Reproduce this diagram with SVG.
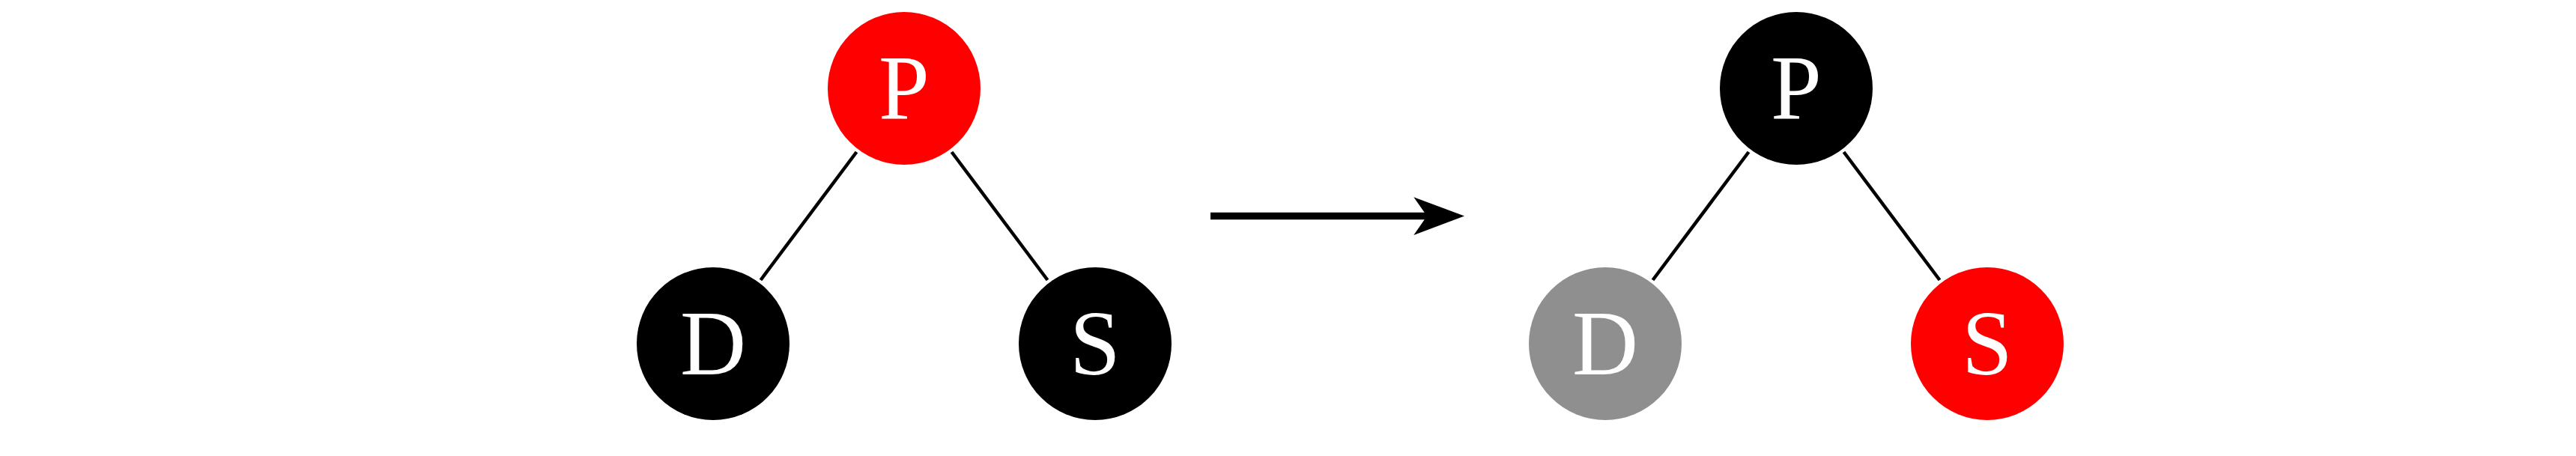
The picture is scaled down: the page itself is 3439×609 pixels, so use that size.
<svg xmlns="http://www.w3.org/2000/svg" width="3439" height="609" viewBox="0 0 3439 609">
<style>
.lbl{font-family:"Liberation Serif","DejaVu Serif",serif;font-size:122px;fill:#fff;text-anchor:middle}
.edge{stroke:#000;stroke-width:4.5;fill:none}
.red{fill:#ff0000}
.blk{fill:#000}
.gry{fill:#8f8f8f}
</style>
<rect width="3439" height="609" fill="#fff"/>
<g id="connectors">
<line class="edge" x1="1143.5" y1="203" x2="1015.5" y2="374"/>
<line class="edge" x1="1270.5" y1="203" x2="1398.5" y2="374"/>
<line class="edge" x1="2334.5" y1="203" x2="2206.5" y2="374"/>
<line class="edge" x1="2461.5" y1="203" x2="2589.5" y2="374"/>
<g id="arrow">
<line x1="1616" y1="288.5" x2="1906" y2="288.5" stroke="#000" stroke-width="9.6"/>
<polygon points="1887.3,263.3 1955,288.5 1887.3,314 1905,288.5" fill="#000"/>
</g>
</g>
<g id="P1"><circle class="red" cx="1207" cy="118" r="102"/><text class="lbl" x="1207" y="158.5">P</text></g>
<g id="D1"><circle class="blk" cx="952" cy="459" r="102"/><text class="lbl" x="952" y="499.5">D</text></g>
<g id="S1"><circle class="blk" cx="1462" cy="459" r="102"/><text class="lbl" x="1462" y="499.5">S</text></g>
<g id="P2"><circle class="blk" cx="2398" cy="118" r="102"/><text class="lbl" x="2398" y="158.5">P</text></g>
<g id="D2"><circle class="gry" cx="2143" cy="459" r="102"/><text class="lbl" x="2143" y="499.5">D</text></g>
<g id="S2"><circle class="red" cx="2653" cy="459" r="102"/><text class="lbl" x="2653" y="499.5">S</text></g>
</svg>
